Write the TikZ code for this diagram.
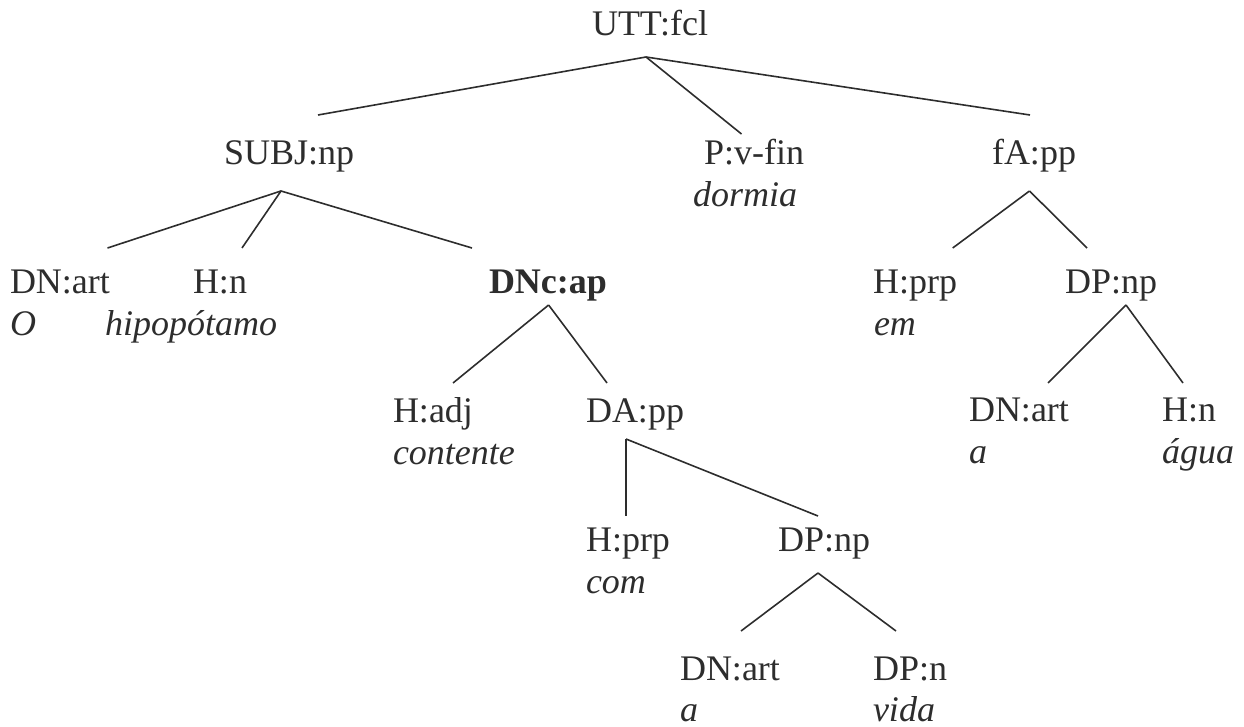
\documentclass[tikz,border=0pt]{standalone}
\usepackage{fontspec}
\setmainfont{Liberation Serif}
\definecolor{ink}{RGB}{45,45,45}
\tikzset{
  lbl/.style={anchor=base west, inner sep=0pt, outer sep=0pt, text=ink, font=\fontsize{36}{42}\selectfont},
  wrd/.style={lbl, font=\fontsize{36}{42}\selectfont\itshape},
  edge/.style={draw=ink, line width=1.6pt}
}
\begin{document}
\begin{tikzpicture}[x=1pt,y=-1pt]
\useasboundingbox (0,0) rectangle (1244,727);
% labels
\node[lbl] (utt) at (592,36) {UTT:fcl};
\node[lbl] (subj) at (224,165) {SUBJ:np};
\node[lbl] (pv) at (704,165) {P:v-fin};
\node[wrd] (pvw) at (693,207) {dormia};
\node[lbl] (fa) at (992,165) {fA:pp};
\node[lbl] (dnart1) at (10,293) {DN:art};
\node[wrd] (dnart1w) at (10,335) {O};
\node[lbl] (hn1) at (193,293) {H:n};
\node[wrd] (hn1w) at (105,335) {hipopótamo};
\node[lbl, font=\fontsize{36}{42}\selectfont\bfseries] (dnc) at (489,293) {DNc:ap};
\node[lbl] (hprp1) at (873,293) {H:prp};
\node[wrd] (hprp1w) at (874,335) {em};
\node[lbl] (dpnp1) at (1065,293) {DP:np};
\node[lbl] (hadj) at (393,422) {H:adj};
\node[wrd] (hadjw) at (393,464) {contente};
\node[lbl] (dapp) at (586,422) {DA:pp};
\node[lbl] (dnart2) at (969,421) {DN:art};
\node[wrd] (dnart2w) at (969,463) {a};
\node[lbl] (hn2) at (1162,421) {H:n};
\node[wrd] (hn2w) at (1162,463) {água};
\node[lbl] (hprp2) at (586,551) {H:prp};
\node[wrd] (hprp2w) at (586,593) {com};
\node[lbl] (dpnp2) at (778,551) {DP:np};
\node[lbl] (dnart3) at (680,680) {DN:art};
\node[wrd, text depth=0pt] (dnart3w) at (680,721) {a};
\node[lbl] (dpn) at (873,680) {DP:n};
\node[wrd, text depth=0pt] (dpnw) at (873,721) {vida};
% connector ends
\coordinate (utt-a) at (646,57);
\coordinate (subj-t) at (318,115);
\coordinate (pv-t) at (741.5,134);
\coordinate (fa-t) at (1030,115);
\coordinate (subj-a) at (281,191);
\coordinate (dnart1-t) at (107.5,248);
\coordinate (hn1-t) at (242,248);
\coordinate (dnc-t) at (472,248);
\coordinate (fa-a) at (1029.5,191);
\coordinate (hprp1-t) at (952.7,248);
\coordinate (dpnp1-t) at (1087,248);
\coordinate (dnc-a) at (548.6,305);
\coordinate (hadj-t) at (453,383);
\coordinate (dapp-t) at (607,383);
\coordinate (dpnp1-a) at (1126,305);
\coordinate (dnart2-t) at (1048,383);
\coordinate (hn2-t) at (1183,383);
\coordinate (dapp-a) at (626,439);
\coordinate (hprp2-t) at (626,516);
\coordinate (dpnp2-t) at (818,516);
\coordinate (dpnp2-a) at (818,573);
\coordinate (dnart3-t) at (741,631);
\coordinate (dpn-t) at (896,631);
% connectors
\draw[edge] (utt-a) -- (subj-t);
\draw[edge] (utt-a) -- (pv-t);
\draw[edge] (utt-a) -- (fa-t);
\draw[edge] (subj-a) -- (dnart1-t);
\draw[edge] (subj-a) -- (hn1-t);
\draw[edge] (subj-a) -- (dnc-t);
\draw[edge] (fa-a) -- (hprp1-t);
\draw[edge] (fa-a) -- (dpnp1-t);
\draw[edge] (dnc-a) -- (hadj-t);
\draw[edge] (dnc-a) -- (dapp-t);
\draw[edge] (dpnp1-a) -- (dnart2-t);
\draw[edge] (dpnp1-a) -- (hn2-t);
\draw[edge] (dapp-a) -- (hprp2-t);
\draw[edge] (dapp-a) -- (dpnp2-t);
\draw[edge] (dpnp2-a) -- (dnart3-t);
\draw[edge] (dpnp2-a) -- (dpn-t);
\end{tikzpicture}
\end{document}
